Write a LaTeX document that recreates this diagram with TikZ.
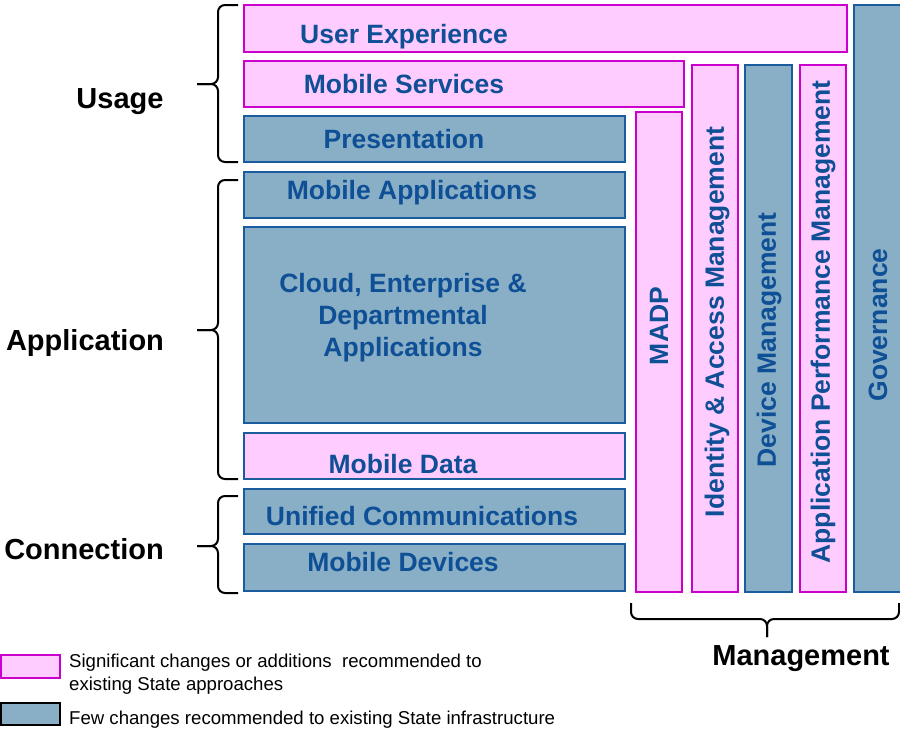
\documentclass[tikz,border=0pt]{standalone}
\usepackage{fontspec}
\setmainfont{Liberation Sans}
\usetikzlibrary{fit}
\definecolor{pinkfill}{HTML}{FFCCFF}
\definecolor{pinkline}{HTML}{CC00CC}
\definecolor{bluefill}{HTML}{88AFC5}
\definecolor{blueline}{HTML}{1A5C9E}
\definecolor{bluetext}{HTML}{0E4F96}

\begin{document}
\begin{tikzpicture}[x=1pt,y=-1pt,
  box/.style={inner sep=0pt, line width=1.6pt},
  pinkbox/.style={box, draw=pinkline, fill=pinkfill},
  bluebox/.style={box, draw=blueline, fill=bluefill},
  lbl/.style={text=bluetext, font=\bfseries\fontsize{26.5}{32}\selectfont, inner sep=0pt},
  grp/.style={font=\bfseries\fontsize{29}{32}\selectfont, inner sep=0pt, anchor=base},
  key/.style={font=\fontsize{18.6}{23}\selectfont, inner sep=0pt, anchor=base west},
  brace/.style={line width=2pt, rounded corners=7pt}]

\useasboundingbox (0,0) rectangle (900,736);

% les couches de gauche
\node[pinkbox, fit={(244,5) (847,52)}] (ux) {};
\node[pinkbox, fit={(244,61) (684,107)}] (serv) {};
\node[bluebox, fit={(244,116) (625,162)}] (pres) {};
\node[bluebox, fit={(244,172) (625,218)}] (apps) {};
\node[bluebox, fit={(244,227) (625,423)}] (cloud) {};
\node[box, draw=blueline, fill=pinkfill, fit={(244,433) (625,479)}] (data) {};
\node[bluebox, fit={(244,489) (625,534)}] (uc) {};
\node[bluebox, fit={(244,544) (625,591)}] (dev) {};

% les colonnes de management
\node[pinkbox, fit={(636,112) (682,592)}] (madpbox) {};
\node[pinkbox, fit={(692,65) (738,592)}] (iambox) {};
\node[bluebox, fit={(745,65) (792,592)}] (dmbox) {};
\node[pinkbox, fit={(800,65) (846,592)}] (apmbox) {};
\node[bluebox, fit={(854,5) (906,592)}] (govbox) {};

\node[lbl, anchor=base] (uxt) at (404,43) {User Experience};
\node[lbl, anchor=base] (servt) at (404,93) {Mobile Services};
\node[lbl, anchor=base] (prest) at (404,148) {Presentation};
\node[lbl, anchor=base] (appst) at (412,199) {Mobile Applications};
\node[lbl, anchor=base, align=center] (cloudt) at (403,356) {Cloud, Enterprise \&\\Departmental\\Applications};
\node[lbl, anchor=base] (datat) at (403,473) {Mobile Data};
\node[lbl, anchor=base] (uct) at (422,525) {Unified Communications};
\node[lbl, anchor=base] (devt) at (403,571) {Mobile Devices};

\foreach \x/\y/\t/\n in {659/326/MADP/madp, 717/322/Identity \& Access Management/iam,
    769/340/Device Management/dm, 823/322/Application Performance Management/apm,
    878/325/Governance/gov}{
  \node[lbl, rotate=90] (\n) at (\x,\y) {\t};
}

% accolades
\draw[brace] (238,5) -- (218,5) -- (218,84) -- (197,84);
\draw[brace] (238,162) -- (218,162) -- (218,84) -- (197,84);
\draw[brace] (238,180) -- (218,180) -- (218,330) -- (197,330);
\draw[brace] (238,479) -- (218,479) -- (218,330) -- (197,330);
\draw[brace] (238,496) -- (218,496) -- (218,546) -- (197,546);
\draw[brace] (238,593) -- (218,593) -- (218,546) -- (197,546);
\draw[brace] (631,603) -- (631,619) -- (767,619) -- (767,637);
\draw[brace] (899,603) -- (899,619) -- (767,619) -- (767,637);

\node[grp] (usage) at (120,108) {Usage};
\node[grp] (appl) at (85,350) {Application};
\node[grp] (conn) at (84,559) {Connection};
\node[grp] (mgmt) at (801,665) {Management};

% legende
\node[pinkbox, fit={(1,655) (60,678)}] (keynew) {};
\node[box, draw=black, fill=bluefill, fit={(1,703) (60,725)}] (keyold) {};
\node[key] (keynew1) at (69,667) {Significant changes or additions~ recommended to};
\node[key] (keynew2) at (69,690) {existing State approaches};
\node[key] (keyoldt) at (69,724) {Few changes recommended to existing State infrastructure};

\end{tikzpicture}
\end{document}
